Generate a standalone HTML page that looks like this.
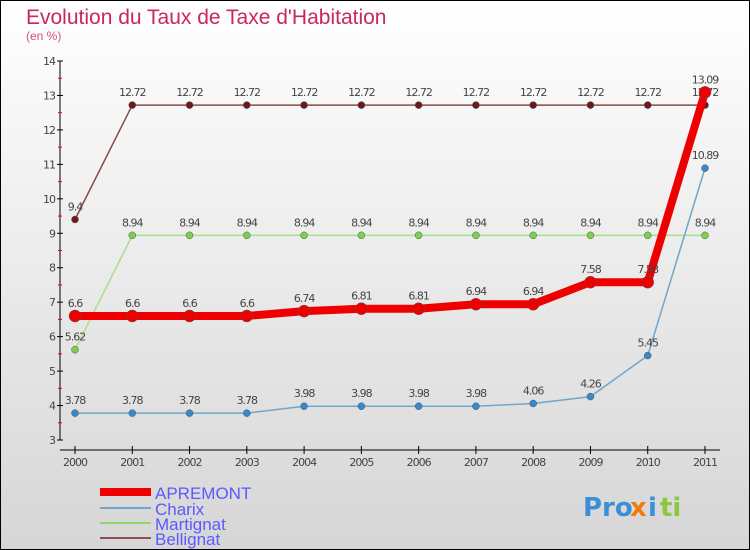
<!DOCTYPE html>
<html><head><meta charset="utf-8"><style>
body{margin:0}
svg{display:block;font-family:"DejaVu Sans","Liberation Sans",sans-serif}
</style></head><body>
<svg width="750" height="550" viewBox="0 0 750 550">
<defs><linearGradient id="bg" x1="0" y1="0" x2="0" y2="1"><stop offset="0" stop-color="#ffffff"/><stop offset="1" stop-color="#d6d6d6"/></linearGradient></defs>
<rect x="0.5" y="0.5" width="749" height="549" fill="url(#bg)" stroke="#000"/>
<text x="26" y="24" font-size="21" font-family="Liberation Sans, sans-serif" fill="#c8285a">Evolution du Taux de Taxe d'Habitation</text>
<text x="26" y="40" font-size="12" font-family="Liberation Sans, sans-serif" fill="#d0507a">(en %)</text>
<g id="axes"></g>
<g id="series"></g>
<g id="legend" font-family="Liberation Sans, sans-serif">
<rect x="100" y="488" width="51" height="8" fill="#e00"/>
<text x="155" y="499" font-size="17" fill="#5a5aff">APREMONT</text>
<rect x="100" y="507" width="51" height="2" fill="#6fa6cc"/>
<text x="155" y="515" font-size="17" fill="#5a5aff">Charix</text>
<rect x="100" y="522" width="51" height="2" fill="#8fd66a"/>
<text x="155" y="530" font-size="17" fill="#5a5aff">Martignat</text>
<rect x="100" y="537" width="51" height="2" fill="#8b5050"/>
<text x="155" y="545" font-size="17" fill="#5a5aff">Bellignat</text>
</g>
<g font-size="26" font-weight="bold">
<text x="583" y="516" fill="#3a8fd8">Pro</text><text x="630" y="516" fill="#f07a10">x</text><text x="648" y="516" fill="#3a8fd8">i</text><text x="660" y="516" fill="#8cc83c">ti</text>
</g>
</svg>
<script>
const years=["2000","2001","2002","2003","2004","2005","2006","2007","2008","2009","2010","2011"];
const yTicks=[3,4,5,6,7,8,9,10,11,12,13,14];
const apremont=[6.6,6.6,6.6,6.6,6.74,6.81,6.81,6.94,6.94,7.58,7.58,13.09];
const charix=[3.78,3.78,3.78,3.78,3.98,3.98,3.98,3.98,4.06,4.26,5.45,10.89];
const martignat=[5.62,8.94,8.94,8.94,8.94,8.94,8.94,8.94,8.94,8.94,8.94,8.94];
const bellignat=[9.4,12.72,12.72,12.72,12.72,12.72,12.72,12.72,12.72,12.72,12.72,12.72];
const NS="http://www.w3.org/2000/svg";
const xS=i=>75+i*(630/11);
const yS=v=>440-(v-3)*(379/11);
function mk(t,a,p){const e=document.createElementNS(NS,t);for(const k in a)e.setAttribute(k,a[k]);p.appendChild(e);return e;}
const ax=document.getElementById('axes');
let e=mk('line',{x1:60,y1:yS(14),x2:60,y2:440,stroke:'#000'},ax);


e=mk('line',{x1:60,y1:450,x2:720,y2:450,stroke:'#000'},ax);


yTicks.forEach(v=>{
 mk('line',{x1:57,x2:63,y1:yS(v),y2:yS(v),stroke:'#000'},ax);
 if(v<14) mk('line',{x1:58,x2:62,y1:yS(v+0.5),y2:yS(v+0.5),stroke:'#e00'},ax);
 const t=mk('text',{x:55,y:yS(v)+4,'font-size':11,fill:'#444','text-anchor':'end','letter-spacing':'-1'},ax);
 t.textContent=v;
 
 
});
years.forEach((y,i)=>{
 mk('line',{x1:xS(i),x2:xS(i),y1:446,y2:454,stroke:'#000'},ax);
 const t=mk('text',{x:xS(i),y:466,'font-size':11,fill:'#444','text-anchor':'middle','letter-spacing':'-1'},ax);
 t.textContent=y;
 
 
});
const sg=document.getElementById('series');
function series(name,data,color,w,r,dot){
 const g=mk('g',{},sg);
 
 
 const pl=mk('polyline',{points:data.map((v,i)=>xS(i)+','+yS(v)).join(' '),fill:'none',stroke:color,'stroke-width':w,'stroke-linejoin':'round'},g);
 
 
 data.forEach((v,i)=>{
  const c=mk('circle',{cx:xS(i),cy:yS(v),r:r,fill:dot,stroke:'#555','stroke-width':0.5},g);
  
  
  const t=mk('text',{x:xS(i),y:yS(v)-9,'font-size':11,fill:'#444','text-anchor':'middle','letter-spacing':'-1'},g);
  t.textContent=String(v);
  
  
 });
}
series('bellignat',bellignat,'#8b4a4a',1.5,3.5,'#6a1a1a');
series('martignat',martignat,'#a8e08a',1.5,3.5,'#7cd04a');
series('charix',charix,'#6fa6cc',1.5,3.5,'#3a88c8');
series('apremont',apremont,'#ee0000',8,6,'#ee0000');
</script>
</body></html>
